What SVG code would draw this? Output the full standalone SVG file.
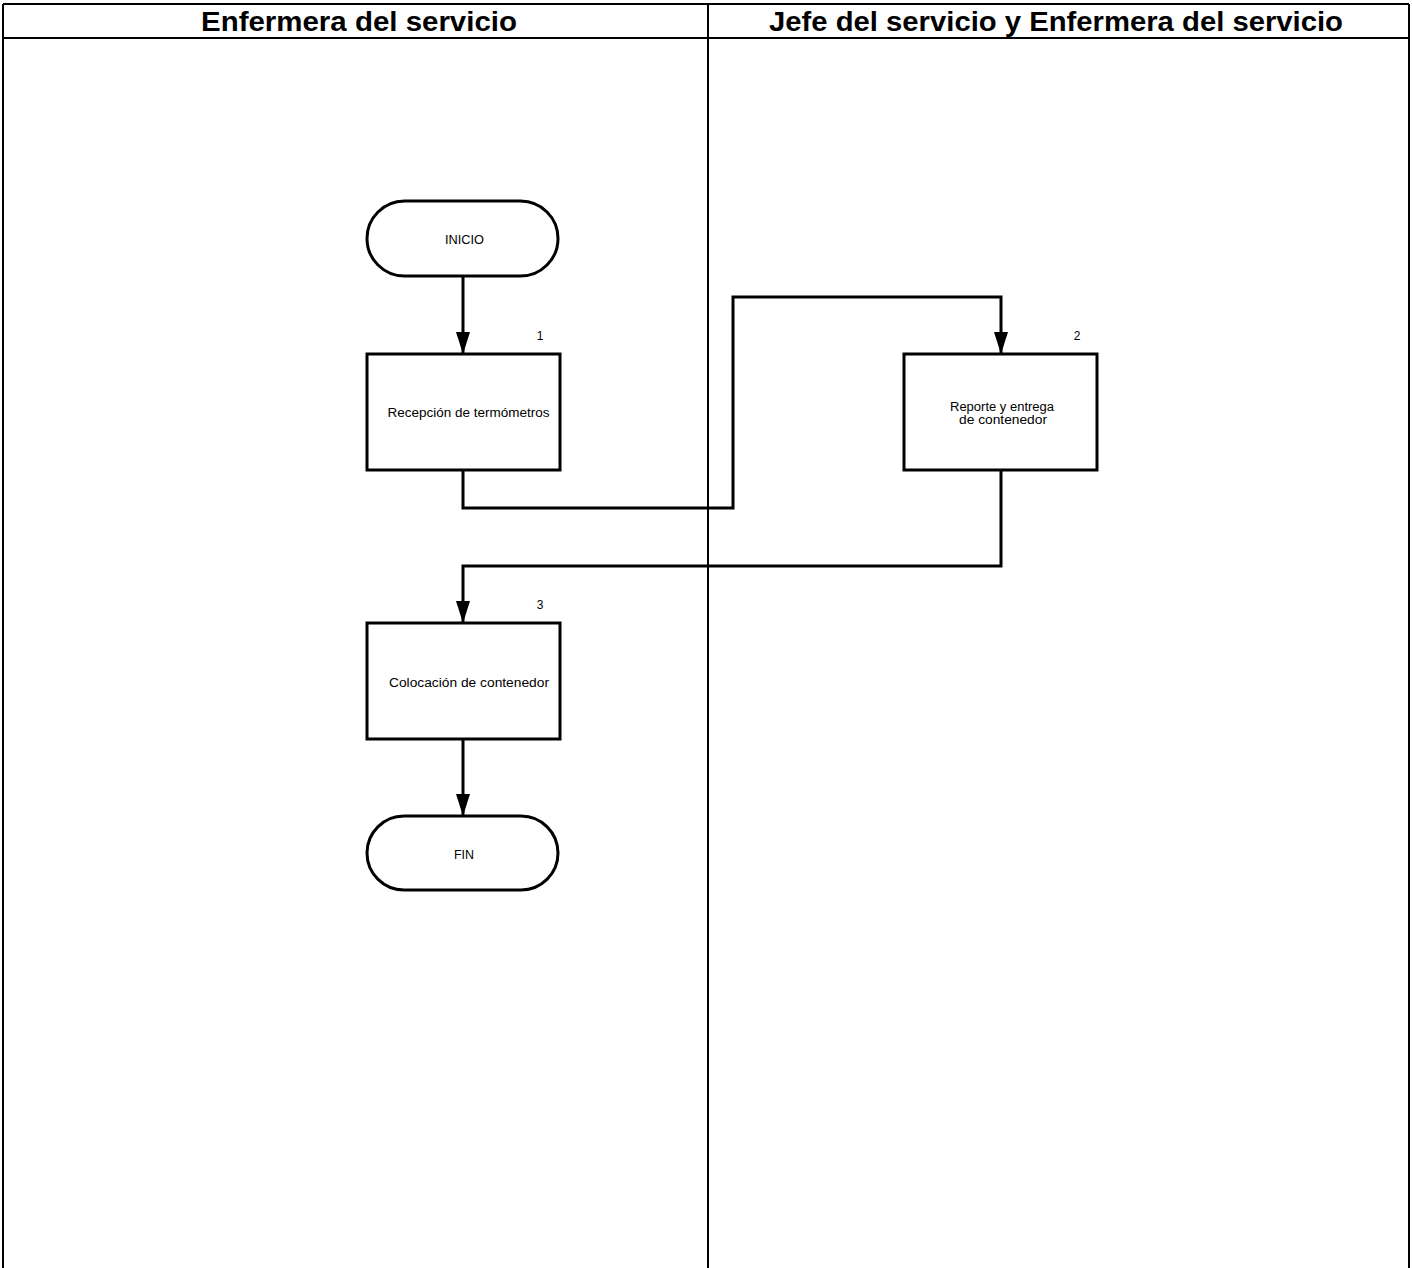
<svg xmlns="http://www.w3.org/2000/svg" width="1412" height="1268" viewBox="0 0 1412 1268">
<style>
.lane{stroke:#000;stroke-width:2;fill:none}
.hdr{font-family:"Liberation Sans",Arial,sans-serif;font-weight:bold;font-size:27px;fill:#000;text-anchor:middle}
.shape{fill:#fff;stroke:#000;stroke-width:3}
.lbl{font-family:"Liberation Sans",Arial,sans-serif;font-size:12px;fill:#000;text-anchor:middle}
.conn{stroke:#000;stroke-width:3;fill:none}
</style>
<defs>
<marker id="ah" markerUnits="userSpaceOnUse" markerWidth="22" markerHeight="14" refX="21" refY="7" orient="auto" viewBox="0 0 22 14">
<path d="M0,0 L22,7 L0,14 Z" fill="#000"/>
</marker>
</defs>
<rect width="1412" height="1268" fill="#fff"/>
<g id="lanes">
<line class="lane" x1="3" y1="4" x2="1409" y2="4"/>
<line class="lane" x1="3" y1="38" x2="1409" y2="38"/>
<line class="lane" x1="3" y1="4" x2="3" y2="1268"/>
<line class="lane" x1="708" y1="4" x2="708" y2="1268"/>
<line class="lane" x1="1409" y1="4" x2="1409" y2="1268"/>
<text class="hdr" x="359" y="31" textLength="316" lengthAdjust="spacingAndGlyphs">Enfermera del servicio</text>
<text class="hdr" x="1056" y="31" textLength="574" lengthAdjust="spacingAndGlyphs">Jefe del servicio y Enfermera del servicio</text>
</g>
<g id="connectors">
<path class="conn" d="M463,276 V353" marker-end="url(#ah)"/>
<path class="conn" d="M463,470 V508 H733 V297 H1001 V353" marker-end="url(#ah)"/>
<path class="conn" d="M1001,470 V566 H463 V622" marker-end="url(#ah)"/>
<path class="conn" d="M463,739 V815" marker-end="url(#ah)"/>
</g>
<g id="inicio">
<rect class="shape" x="367" y="201" width="191" height="75" rx="37.5" ry="37.5"/>
<text class="lbl" x="464.5" y="244" textLength="39" lengthAdjust="spacingAndGlyphs">INICIO</text>
</g>
<g id="paso1">
<rect class="shape" x="367" y="354" width="193" height="116"/>
<text class="lbl" x="468.5" y="417" textLength="162" lengthAdjust="spacingAndGlyphs">Recepción de termómetros</text>
<text class="lbl" x="540" y="340">1</text>
</g>
<g id="paso2">
<rect class="shape" x="904" y="354" width="193" height="116"/>
<text class="lbl" x="1002" y="411" textLength="104" lengthAdjust="spacingAndGlyphs">Reporte y entrega</text>
<text class="lbl" x="1003" y="424" textLength="88" lengthAdjust="spacingAndGlyphs">de contenedor</text>
<text class="lbl" x="1077" y="340">2</text>
</g>
<g id="paso3">
<rect class="shape" x="367" y="623" width="193" height="116"/>
<text class="lbl" x="469" y="687" textLength="160" lengthAdjust="spacingAndGlyphs">Colocación de contenedor</text>
<text class="lbl" x="540" y="609">3</text>
</g>
<g id="fin">
<rect class="shape" x="367" y="816" width="191" height="74" rx="37" ry="37"/>
<text class="lbl" x="464" y="859" textLength="20" lengthAdjust="spacingAndGlyphs">FIN</text>
</g>
</svg>
